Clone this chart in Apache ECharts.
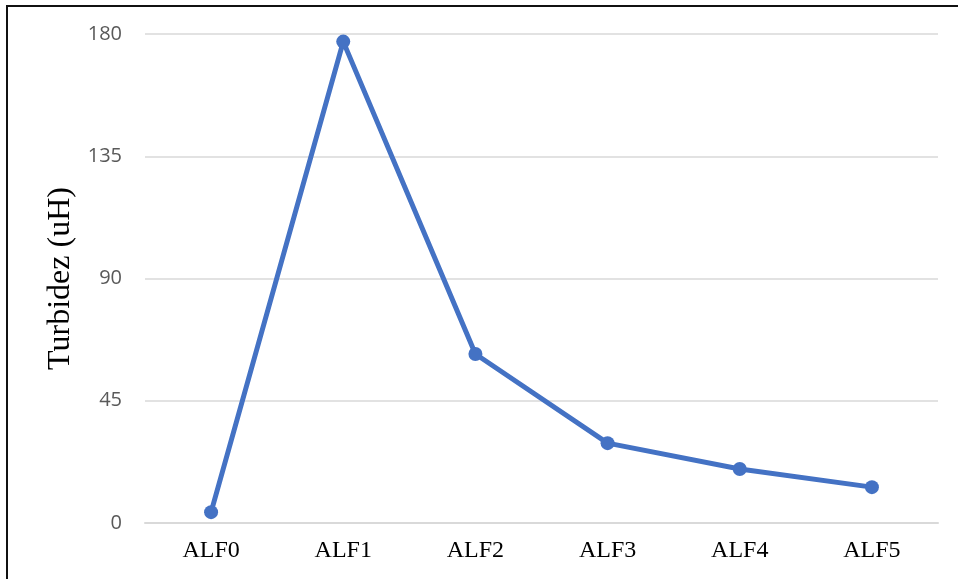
<!DOCTYPE html>
<html><head><meta charset="utf-8">
<script src="https://cdn.jsdelivr.net/npm/echarts@6/dist/echarts.min.js"></script>
<style>
html,body{margin:0;padding:0;background:#fff;overflow:hidden;width:958px;height:579px;}
#c{position:absolute;left:0;top:0;width:958px;height:579px;}
</style></head>
<body>
<div id="c"></div>
<script>
const categories = ['ALF0','ALF1','ALF2','ALF3','ALF4','ALF5'];
const turbidez = [4.0, 177.2, 62.2, 29.4, 19.9, 13.2];
const yTicks = {min:0, max:180, interval:45};

const chart = echarts.init(document.getElementById('c'), null, {renderer:'canvas'});
chart.setOption({
  animation:false,
  graphic:[
    {type:'line', shape:{x1:7, y1:6, x2:958, y2:6}, style:{stroke:'#111', lineWidth:2}},
    {type:'line', shape:{x1:7, y1:5, x2:7, y2:579}, style:{stroke:'#111', lineWidth:2}}
  ],
  grid:{left:145, right:20, top:34, bottom:56, containLabel:false},
  xAxis:{
    type:'category', data:categories, boundaryGap:true,
    axisLine:{show:true, lineStyle:{color:'#d9d9d9', width:2}},
    axisTick:{show:false},
    axisLabel:{color:'#000', fontFamily:'Liberation Serif', fontSize:24, margin:16}
  },
  yAxis:{
    type:'value', min:yTicks.min, max:yTicks.max, interval:yTicks.interval,
    name:'Turbidez (uH)', nameLocation:'middle', nameGap:68, nameRotate:90,
    nameTextStyle:{color:'#000', fontFamily:'Liberation Serif', fontSize:32},
    axisLine:{show:false}, axisTick:{show:false},
    axisLabel:{color:'#595959', fontFamily:'Open Sans', fontSize:20, margin:23},
    splitLine:{lineStyle:{color:'#d9d9d9', width:1.5}}
  },
  series:[{
    type:'line', data:turbidez,
    symbol:'circle', symbolSize:14,
    lineStyle:{color:'#4472C4', width:5},
    itemStyle:{color:'#4472C4'}
  }]
});
</script>
</body></html>
